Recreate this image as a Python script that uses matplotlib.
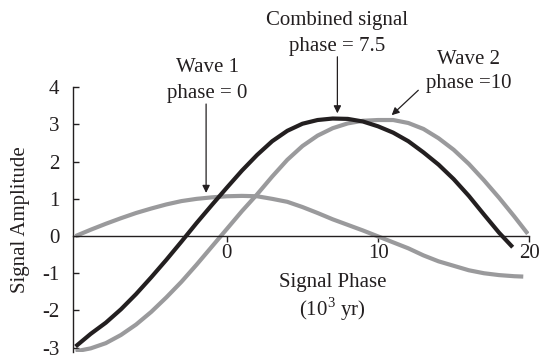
import matplotlib
matplotlib.use("Agg")
import matplotlib.pyplot as plt

plt.rcParams['font.family'] = ['Liberation Serif', 'DejaVu Serif']
plt.rcParams['mathtext.fontset'] = 'custom'
plt.rcParams['mathtext.rm'] = 'Liberation Serif'

# values
wave1_x = [-10, -9, -8, -7, -6, -5, -4, -3, -2, -1, 0, 1, 2, 3, 4, 5, 6, 7, 8, 9,
           10, 11, 12, 13, 14, 15, 16, 17, 18, 19, 19.6]
wave1_y = [0.0, 0.17, 0.33, 0.48, 0.62, 0.74, 0.85, 0.94, 1.00, 1.04, 1.07, 1.08, 1.07,
           1.00, 0.92, 0.78, 0.62, 0.45, 0.30, 0.15, -0.01, -0.17, -0.33, -0.52, -0.68,
           -0.80, -0.92, -1.00, -1.05, -1.08, -1.09]

wave2_x = [-10, -9, -8, -7, -6, -5, -4, -3, -2, -1, 0, 1, 2, 3, 4, 5, 6, 7, 8, 9,
           10, 11, 12, 13, 14, 15, 16, 17, 18, 19, 19.9]
wave2_y = [-3.10, -3.02, -2.88, -2.66, -2.38, -2.04, -1.65, -1.23, -0.77, -0.29, 0.19,
           0.67, 1.12, 1.60, 2.05, 2.42, 2.70, 2.90, 3.03, 3.10, 3.12, 3.12, 3.04, 2.88,
           2.63, 2.32, 1.94, 1.50, 1.03, 0.53, 0.06]

comb_x = [-10, -9, -8, -7, -6, -5, -4, -3, -2, -1, 0, 1, 2, 3, 4, 5, 6, 7, 8, 9,
          10, 11, 12, 13, 14, 15, 16, 17, 18, 18.9]
comb_y = [-2.97, -2.63, -2.33, -1.97, -1.56, -1.11, -0.64, -0.15, 0.35, 0.83, 1.30,
          1.76, 2.18, 2.55, 2.83, 3.02, 3.12, 3.16, 3.15, 3.08, 2.95, 2.78, 2.55, 2.25,
          1.92, 1.53, 1.08, 0.58, 0.09, -0.30]

yticks = [4, 3, 2, 1, 0, -1, -2, -3]
xticks = [0, 10, 20]

gray = '#9a9a9c'
dark = '#231f20'
fs = 15

fig = plt.figure(figsize=(5.41, 3.61), dpi=100)
ax = fig.add_axes([0.1355, 0.0247, 0.8429, 0.7335])

ax.plot(wave1_x, wave1_y, color=gray, lw=3.0, solid_capstyle='butt')
ax.plot(wave2_x, wave2_y, color=gray, lw=3.0, solid_capstyle='butt')
ax.plot(comb_x, comb_y, color=dark, lw=3.0, solid_capstyle='butt')

ax.set_xlim(-10.15, 20)
ax.set_ylim(-3.12, 4.0)

ax.spines['top'].set_visible(False)
ax.spines['right'].set_visible(False)
ax.spines['bottom'].set_position(('data', 0))
ax.spines['bottom'].set_bounds(-10.15, 20)
ax.spines['left'].set_bounds(-3.12, 4.0)
for s in ['left', 'bottom']:
    ax.spines[s].set_linewidth(1.0)
    ax.spines[s].set_color(dark)

ax.set_xticks(xticks)
ax.set_xticklabels([str(v) for v in xticks])
ax.set_yticks(yticks)
ax.set_yticklabels([str(v) for v in yticks])
ax.tick_params(axis='x', direction='out', length=4, width=1, pad=2, labelsize=fs,
               colors=dark)
ax.tick_params(axis='y', direction='in', length=4, width=1, pad=10, labelsize=fs,
               colors=dark)

ax.set_ylabel('Signal Amplitude', fontsize=fs, color=dark)
ax.yaxis.set_label_coords(-0.095, 0.5)

ax.text(7.0, -1.25, 'Signal Phase', fontsize=fs, color=dark, ha='center', va='center')
ax.text(7.0, -1.96, r'(10$^3$ yr)', fontsize=fs, color=dark, ha='center', va='center')

arrow = dict(arrowstyle='-|>', color=dark, lw=0.9, mutation_scale=11,
             shrinkA=0, shrinkB=0)

ax.annotate('', xy=(-1.37, 1.16), xytext=(-1.37, 3.55), arrowprops=arrow,
            annotation_clip=False)
ax.text(-1.27, 4.52, 'Wave 1', fontsize=fs, color=dark, ha='center', va='center',
        clip_on=False)
ax.text(-1.27, 3.84, 'phase = 0', fontsize=fs, color=dark, ha='center', va='center',
        clip_on=False)

ax.annotate('', xy=(7.31, 3.30), xytext=(7.31, 4.82), arrowprops=arrow,
            annotation_clip=False)
ax.text(7.3, 5.79, 'Combined signal', fontsize=fs, color=dark, ha='center',
        va='center', clip_on=False)
ax.text(7.3, 5.09, 'phase = 7.5', fontsize=fs, color=dark, ha='center',
        va='center', clip_on=False)

ax.annotate('', xy=(10.9, 3.25), xytext=(12.66, 3.92), arrowprops=arrow,
            annotation_clip=False)
ax.text(16.0, 4.75, 'Wave 2', fontsize=fs, color=dark, ha='center', va='center',
        clip_on=False)
ax.text(16.0, 4.10, 'phase =10', fontsize=fs, color=dark, ha='center', va='center',
        clip_on=False)

fig.savefig('out.png', dpi=100)
